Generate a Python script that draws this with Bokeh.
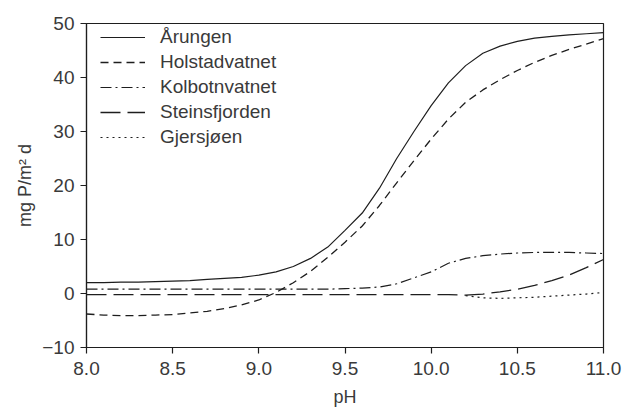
from bokeh.plotting import figure
from bokeh.models import Range1d, FixedTicker, Legend, LegendItem, CustomJSTickFormatter
from bokeh.embed import file_html
from bokeh.resources import INLINE

# ---- data ----
ph = [8.0, 8.1, 8.2, 8.3, 8.4, 8.5, 8.6, 8.7, 8.8, 8.9,
      9.0, 9.1, 9.2, 9.3, 9.4, 9.5, 9.6, 9.7, 9.8, 9.9,
      10.0, 10.1, 10.2, 10.3, 10.4, 10.5, 10.6, 10.7, 10.8, 10.9, 11.0]

arungen = [2.0, 2.0, 2.1, 2.1, 2.2, 2.3, 2.4, 2.6, 2.8, 3.0,
           3.4, 4.0, 5.0, 6.5, 8.6, 11.7, 14.9, 19.5, 25.0, 30.0,
           34.8, 39.0, 42.2, 44.5, 45.8, 46.7, 47.3, 47.6, 47.9, 48.1, 48.3]

holstadvatnet = [-3.8, -4.0, -4.1, -4.1, -4.0, -3.9, -3.6, -3.3, -2.8, -2.1,
                 -1.2, 0.2, 2.0, 4.1, 6.7, 9.5, 12.5, 16.3, 20.5, 24.6,
                 28.6, 32.3, 35.4, 37.7, 39.6, 41.3, 42.8, 44.1, 45.2, 46.2, 47.2]

kolbotnvatnet = [0.8, 0.8, 0.8, 0.8, 0.8, 0.8, 0.8, 0.8, 0.8, 0.8,
                 0.8, 0.8, 0.8, 0.8, 0.8, 0.9, 1.0, 1.2, 1.8, 2.9,
                 4.0, 5.6, 6.5, 7.0, 7.3, 7.5, 7.6, 7.6, 7.6, 7.5, 7.4]

steinsfjorden = [-0.2, -0.2, -0.2, -0.2, -0.2, -0.2, -0.2, -0.2, -0.2, -0.2,
                 -0.2, -0.2, -0.2, -0.2, -0.2, -0.2, -0.2, -0.2, -0.2, -0.2,
                 -0.2, -0.2, -0.3, -0.1, 0.3, 0.8, 1.5, 2.4, 3.4, 4.8, 6.3]

gjersjoen_ph = [10.2, 10.3, 10.4, 10.5, 10.6, 10.7, 10.8, 10.9, 11.0]
gjersjoen = [-0.4, -0.8, -0.9, -0.8, -0.7, -0.5, -0.3, -0.1, 0.2]

x_ticks = [8.0, 8.5, 9.0, 9.5, 10.0, 10.5, 11.0]
y_ticks = [-10, 0, 10, 20, 30, 40, 50]

FONT = "Liberation Sans"
TXT = "#3a3a3a"
LINE = "#1e1e1e"

p = figure(width=626, height=409, x_range=Range1d(8, 11), y_range=Range1d(-10, 50),
           output_backend="svg", toolbar_location=None,
           min_border_left=86, min_border_right=23, min_border_top=23, min_border_bottom=62)

p.xgrid.visible = False
p.ygrid.visible = False
p.outline_line_color = LINE
p.outline_line_width = 1.2
p.background_fill_color = "white"
p.border_fill_color = "white"

r1 = p.line(ph, arungen, line_color=LINE, line_width=1.2)
r2 = p.line(ph, holstadvatnet, line_color=LINE, line_width=1.3, line_dash="8 5")
r3 = p.line(ph, kolbotnvatnet, line_color=LINE, line_width=1.2, line_dash="11 4 2 4")
r4 = p.line(ph, steinsfjorden, line_color=LINE, line_width=1.3, line_dash="20 7")
r5 = p.line(gjersjoen_ph, gjersjoen, line_color=LINE, line_width=1.2, line_dash="2 4")

for ax in (p.xaxis[0], p.yaxis[0]):
    ax.axis_line_color = LINE
    ax.axis_line_width = 1.2
    ax.major_tick_line_color = LINE
    ax.major_tick_line_width = 1.2
    ax.major_tick_in = 0
    ax.major_tick_out = 6
    ax.minor_tick_line_color = None
    ax.major_label_text_font = FONT
    ax.major_label_text_font_size = "19px"
    ax.major_label_text_color = TXT
    ax.axis_label_text_font = FONT
    ax.axis_label_text_font_size = "18px"
    ax.axis_label_text_font_style = "normal"
    ax.axis_label_text_color = TXT

p.xaxis.ticker = FixedTicker(ticks=x_ticks)
p.yaxis.ticker = FixedTicker(ticks=y_ticks)
p.xaxis.formatter = CustomJSTickFormatter(code="return tick.toFixed(1);")
p.yaxis.formatter = CustomJSTickFormatter(code="return tick < 0 ? '\u2212' + Math.abs(tick).toFixed(0) : tick.toFixed(0);")
p.xaxis.major_label_standoff = 8
p.yaxis.major_label_standoff = 6
p.xaxis.axis_label = "pH"
p.yaxis.axis_label = "mg P/m\u00b2 d"
p.xaxis.axis_label_standoff = 9
p.yaxis.axis_label_standoff = 4

legend = Legend(items=[
    LegendItem(label="Årungen", renderers=[r1]),
    LegendItem(label="Holstadvatnet", renderers=[r2]),
    LegendItem(label="Kolbotnvatnet", renderers=[r3]),
    LegendItem(label="Steinsfjorden", renderers=[r4]),
    LegendItem(label="Gjersjøen", renderers=[r5]),
], location=(14, 199))
legend.margin = 0
legend.padding = 0
legend.border_line_color = None
legend.background_fill_alpha = 0
legend.label_text_font = FONT
legend.label_text_font_size = "19px"
legend.label_text_color = TXT
legend.glyph_width = 45
legend.glyph_height = 20
legend.label_height = 20
legend.label_standoff = 15
legend.spacing = 3
p.add_layout(legend)

open("out.html", "w").write(file_html(p, INLINE))
